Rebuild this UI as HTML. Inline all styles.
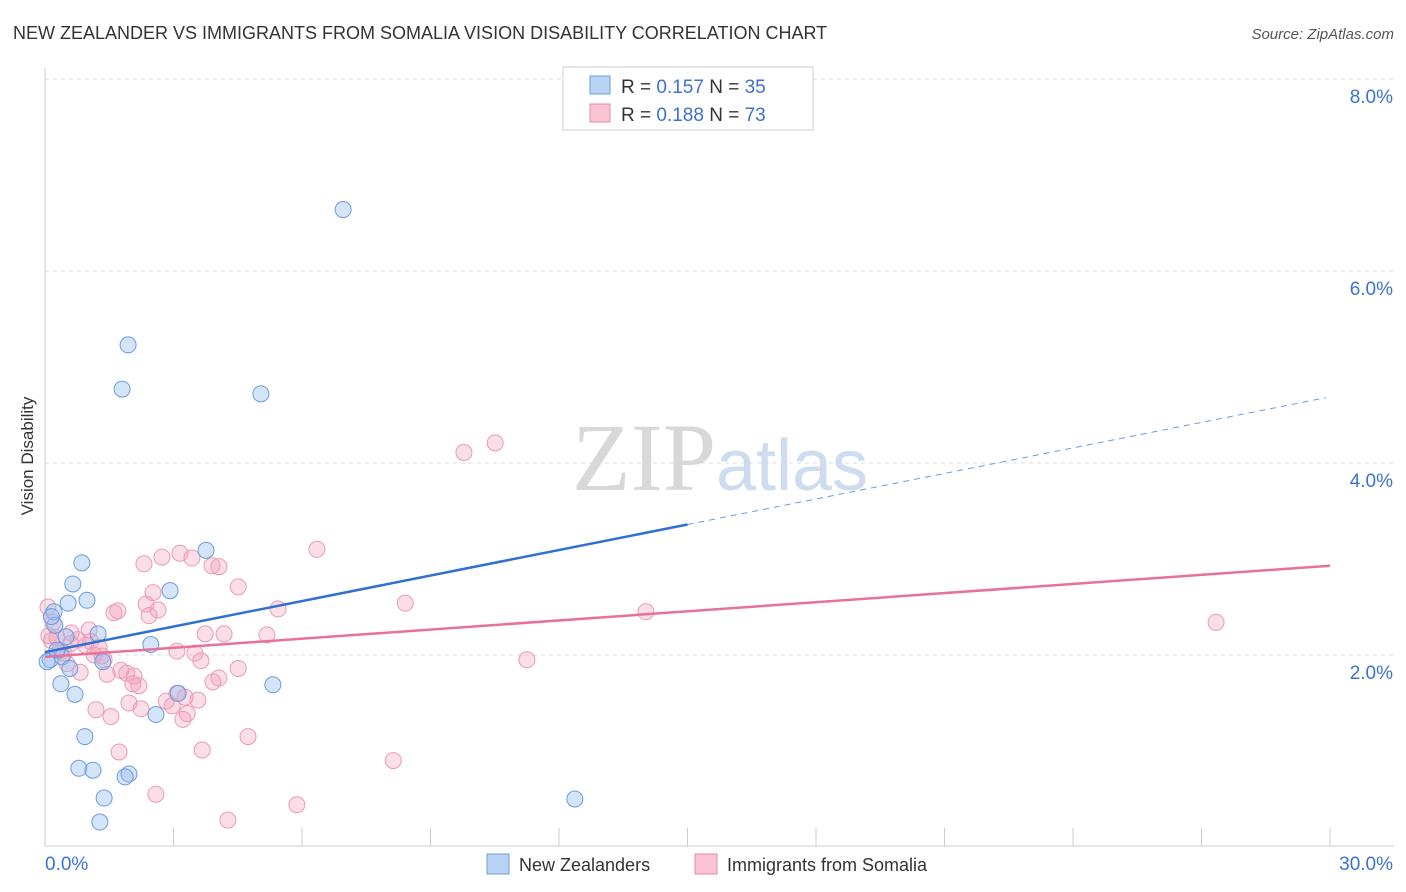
<!DOCTYPE html>
<html><head><meta charset="utf-8"><style>
body{margin:0;background:#fff;font-family:"Liberation Sans",sans-serif;}
svg{display:block}
</style></head><body>
<svg width="1406" height="892" viewBox="0 0 1406 892">
<text x="13" y="39" font-size="18" fill="#333">NEW ZEALANDER VS IMMIGRANTS FROM SOMALIA VISION DISABILITY CORRELATION CHART</text>
<text x="1394" y="39" font-size="15" fill="#555" font-style="italic" text-anchor="end">Source: ZipAtlas.com</text>
<text x="33" y="456" font-size="17" fill="#333" text-anchor="middle" transform="rotate(-90 33 456)">Vision Disability</text>
<g id="grid"></g>
<g id="axes"></g>
<text x="720" y="490" font-size="96" fill="#ddd" text-anchor="middle" font-family="Liberation Serif,serif"><tspan fill="#d8d8d8">ZIP</tspan><tspan fill="#cfdcef" font-family="Liberation Sans,sans-serif" font-size="72">atlas</tspan></text>
<g id="pts"></g>
<g id="lines"></g>
<g>
<rect x="563" y="67" width="250" height="63" fill="#fff" stroke="#ccc"/>
<rect x="590" y="76" width="20" height="18" fill="#b9d3f3" stroke="#6a9be0"/>
<rect x="590" y="104" width="20" height="18" fill="#f9c4d4" stroke="#e889a8"/>
<text x="621" y="93" font-size="19" fill="#333">R = <tspan fill="#3b73d1">0.157</tspan>   N = <tspan fill="#3b73d1">35</tspan></text>
<text x="621" y="121" font-size="19" fill="#333">R = <tspan fill="#3b73d1">0.188</tspan>   N = <tspan fill="#3b73d1">73</tspan></text>
</g>
<g>
<rect x="487" y="854" width="22" height="20" fill="#b9d3f3" stroke="#6a9be0"/>
<text x="519" y="871" font-size="18" fill="#333">New Zealanders</text>
<rect x="695" y="854" width="22" height="20" fill="#f9c4d4" stroke="#e889a8"/>
<text x="727" y="871" font-size="18" fill="#333">Immigrants from Somalia</text>
</g>
</svg>
<script>
const yTicks=[2,4,6,8];
const yTickLabels=["2.0%","4.0%","6.0%","8.0%"];
const xLabels=["0.0%","30.0%"];
const blueX=[6.96,1.94,1.80,5.04,0.86,3.76,0.65,2.92,0.54,0.98,0.21,0.23,1.24,2.47,0.49,0.12,0.40,0.58,1.35,0.37,0.70,3.11,5.32,2.59,0.93,0.79,1.12,1.96,1.87,1.38,1.28,12.37,0.05,0.28,0.15];
const blueY=[6.64,5.23,4.77,4.72,2.96,3.09,2.74,2.67,2.54,2.57,2.45,2.31,2.22,2.11,2.19,1.95,1.98,1.86,1.93,1.70,1.59,1.60,1.69,1.38,1.15,0.82,0.80,0.76,0.73,0.51,0.26,0.50,1.93,2.05,2.40];
const pinkX=[10.51,9.78,6.35,3.15,2.73,3.43,2.31,3.90,4.06,4.51,2.52,8.41,2.36,2.64,5.44,1.61,1.70,14.03,2.43,27.34,0.07,0.19,1.03,0.61,5.18,4.18,3.74,0.09,0.28,0.77,1.07,1.26,3.08,3.50,1.33,0.44,1.38,3.64,11.25,4.51,0.51,0.82,1.77,2.08,1.91,4.06,3.92,2.19,3.08,3.27,2.83,3.57,1.96,1.19,2.24,3.32,1.54,3.22,2.97,4.74,1.73,3.67,8.13,2.59,5.88,4.27,0.15,0.35,0.95,1.45,2.05,0.60,1.15];
const pinkY=[4.21,4.11,3.10,3.06,3.02,3.01,2.95,2.93,2.92,2.71,2.65,2.54,2.53,2.47,2.48,2.44,2.46,2.45,2.41,2.34,2.50,2.34,2.26,2.23,2.21,2.22,2.22,2.20,2.18,2.16,2.14,2.08,2.04,2.02,1.99,2.02,1.95,1.94,1.95,1.86,1.91,1.82,1.84,1.78,1.81,1.76,1.72,1.68,1.60,1.56,1.52,1.53,1.50,1.43,1.44,1.39,1.36,1.33,1.47,1.15,0.99,1.01,0.90,0.55,0.44,0.28,2.15,2.05,2.10,1.80,1.70,2.12,2.00];
const blueLine=[2.03,4.68];
const pinkLine=[1.98,2.93];
const NS="http://www.w3.org/2000/svg";
const X0=45,X1=1330,Y0=847;
function sx(v){return X0+(v/30)*(X1-X0);}
function sy(v){return Y0-v*96;}
function mk(t,a,p){const e=document.createElementNS(NS,t);for(const k in a)e.setAttribute(k,a[k]);p.appendChild(e);return e;}
const grid=document.getElementById('grid'),axes=document.getElementById('axes');
yTicks.forEach((v,i)=>{
 const l=mk('line',{x1:45,x2:1394,y1:sy(v),y2:sy(v),stroke:'#ddd','stroke-dasharray':'4,4'},grid);
 
 
 const t=mk('text',{x:1393,y:sy(v)+24,'font-size':19,fill:'#3b73d1','text-anchor':'end'},axes);
 t.textContent=yTickLabels[i];
 
 
});
mk('line',{x1:45,x2:45,y1:68,y2:846,stroke:'#ccc'},axes);
mk('line',{x1:45,x2:1394,y1:846,y2:846,stroke:'#ccc'},axes);
for(let i=0;i<=10;i++){const x=sx(i*3);const tk=mk('line',{x1:x,x2:x,y1:828,y2:846,stroke:'#ccc'},axes);
 
 }
const xl0=mk('text',{x:45,y:870,'font-size':19,fill:'#3b73d1'},axes);xl0.textContent=xLabels[0];


const xl1=mk('text',{x:1393,y:870,'font-size':19,fill:'#3b73d1','text-anchor':'end'},axes);xl1.textContent=xLabels[1];


const pts=document.getElementById('pts');
pinkX.forEach((v,i)=>{const c=mk('circle',{cx:sx(v),cy:sy(pinkY[i]),r:8,fill:'rgba(244,160,188,0.35)',stroke:'#eb9ab5','stroke-width':1},pts);
 
 });
blueX.forEach((v,i)=>{const c=mk('circle',{cx:sx(v),cy:sy(blueY[i]),r:8,fill:'rgba(150,190,240,0.4)',stroke:'#6a9be0','stroke-width':1},pts);
 
 });
const lines=document.getElementById('lines');
const bm=blueLine[0]+(blueLine[1]-blueLine[0])*(15/29.9);
const b1=mk('line',{x1:sx(0),y1:sy(blueLine[0]),x2:sx(15),y2:sy(bm),stroke:'#2f6fd6','stroke-width':2.5},lines);


const b2=mk('line',{x1:sx(15),y1:sy(bm),x2:sx(29.9),y2:sy(blueLine[1]),stroke:'#6a9be0','stroke-width':1,'stroke-dasharray':'6,5'},lines);


const p1=mk('line',{x1:sx(0),y1:sy(pinkLine[0]),x2:sx(30),y2:sy(pinkLine[1]),stroke:'#e8709a','stroke-width':2.5},lines);


</script>
</body></html>
